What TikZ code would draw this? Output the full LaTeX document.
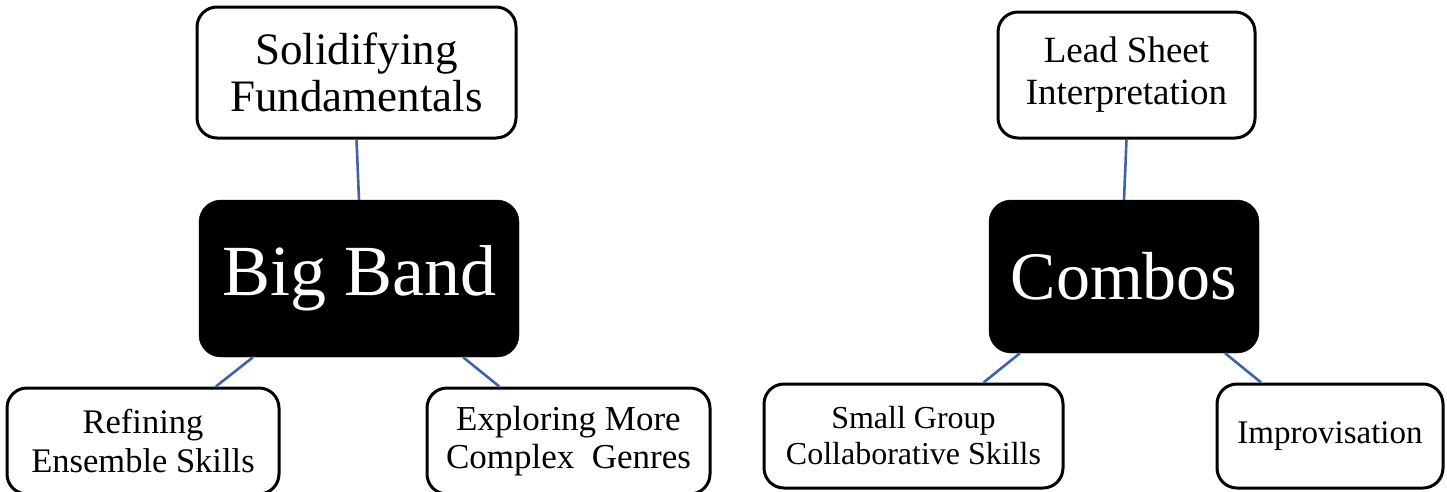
\documentclass[tikz,border=0pt]{standalone}
\usepackage{fontspec}
\setmainfont{Liberation Serif}
\usetikzlibrary{calc}
\definecolor{linkblue}{HTML}{3F63A8}
\tikzset{
  leaf/.style={draw=black, line width=3pt, rounded corners=20pt, fill=white, align=center, inner sep=0pt},
  hub/.style={draw=black, fill=black, text=white, rounded corners=22pt, align=center, inner sep=0pt},
  link/.style={draw=linkblue, line width=2.6pt}
}
\newcommand{\fs}[2]{\fontsize{#1}{#2}\selectfont}
\begin{document}
\begin{tikzpicture}[x=1pt,y=-1pt]
\useasboundingbox (0,0) rectangle (1447,491);
\begin{scope}
\clip (0,0) rectangle (1447,491);
% left cluster
\node[leaf, minimum width=319pt, minimum height=131pt, font=\fs{45}{47}] (sol) at (356.5,72.5) {Solidifying\\Fundamentals};
\node[hub, minimum width=320pt, minimum height=157pt, font=\fs{72}{80}] (bb) at (359,278.5) {Big Band};
\node[leaf, minimum width=272pt, minimum height=106pt, font=\fs{34.5}{39}] (ref) at (143,441) {Refining\\Ensemble Skills};
\node[leaf, minimum width=283pt, minimum height=106pt, font=\fs{35}{38}] (exp) at (568.5,441) {Exploring More\\Complex\ \ Genres};
% right cluster
\node[leaf, minimum width=257pt, minimum height=126pt, font=\fs{37}{42}] (lead) at (1126.5,75) {Lead Sheet\\Interpretation};
\node[hub, minimum width=270pt, minimum height=153pt, font=\fs{68}{76}] (com) at (1124,276.5) {Combos};
\node[leaf, minimum width=299pt, minimum height=104pt, font=\fs{32}{36}] (sg) at (913.5,436) {Small Group\\Collaborative Skills};
\node[leaf, minimum width=226pt, minimum height=104pt, font=\fs{33}{36}] (imp) at (1330,436) {Improvisation};
% connectors
\draw[link] (sol.south) -- (bb.north);
\draw[link] ($(bb.south west)!0.169!(bb.south east)$) -- ($(ref.north west)!0.765!(ref.north east)$);
\draw[link] ($(bb.south west)!0.825!(bb.south east)$) -- ($(exp.north west)!0.258!(exp.north east)$);
\draw[link] (lead.south) -- (com.north);
\draw[link] ($(com.south west)!0.115!(com.south east)$) -- ($(sg.north west)!0.732!(sg.north east)$);
\draw[link] ($(com.south west)!0.874!(com.south east)$) -- ($(imp.north west)!0.199!(imp.north east)$);
\end{scope}
\end{tikzpicture}
\end{document}
